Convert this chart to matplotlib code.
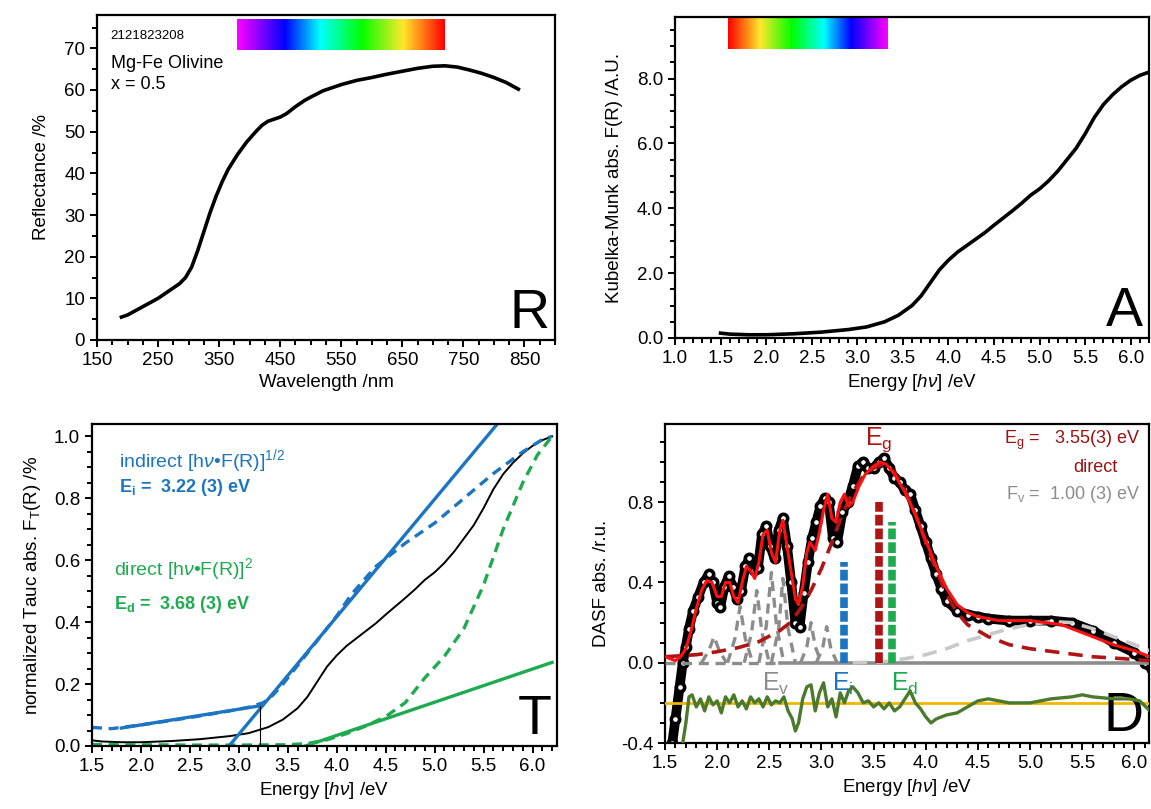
import numpy as np
import matplotlib
matplotlib.use("Agg")
import matplotlib.pyplot as plt
from matplotlib.colors import LinearSegmentedColormap
from matplotlib.ticker import MultipleLocator, FormatStrFormatter

plt.rcParams['font.family'] = ['Liberation Sans', 'DejaVu Sans']
plt.rcParams['mathtext.fontset'] = 'custom'
plt.rcParams['mathtext.rm'] = 'Liberation Sans'
plt.rcParams['mathtext.it'] = 'Liberation Sans:italic'
plt.rcParams['mathtext.bf'] = 'Liberation Sans:bold'

# ---- R: reflectance spectrum ----
wavelength = [190, 200, 225, 250, 270, 285, 295, 305, 315, 325, 335, 345, 355, 365, 380,
              395, 410, 420, 430, 440, 450, 460, 475, 490, 500, 520, 550, 575, 600, 625,
              650, 675, 700, 720, 740, 760, 780, 800, 820, 840]
reflectance = [5.5, 6.0, 8.0, 10.0, 12.0, 13.5, 15.0, 17.5, 21.5, 26.0, 30.5, 34.5, 38.0, 41.0, 44.5,
               47.5, 50.0, 51.5, 52.5, 53.0, 53.5, 54.3, 56.0, 57.5, 58.3, 59.8, 61.3, 62.3, 63.0, 63.8,
               64.5, 65.2, 65.7, 65.8, 65.5, 64.8, 64.0, 63.0, 61.8, 60.2]

# ---- A: Kubelka-Munk ----
km_energy = [1.5, 1.6, 1.8, 2.0, 2.3, 2.6, 2.9, 3.1, 3.3, 3.45, 3.6, 3.7, 3.8, 3.9, 4.0,
             4.1, 4.2, 4.3, 4.4, 4.5, 4.6, 4.7, 4.8, 4.9, 5.0, 5.1, 5.2, 5.3, 5.4, 5.5,
             5.6, 5.7, 5.8, 5.9, 6.0, 6.1, 6.2]
km_abs = [0.15, 0.12, 0.1, 0.1, 0.13, 0.18, 0.26, 0.34, 0.5, 0.7, 1.0, 1.3, 1.7, 2.1, 2.4,
          2.65, 2.85, 3.05, 3.25, 3.48, 3.7, 3.92, 4.15, 4.4, 4.6, 4.85, 5.15, 5.5, 5.85, 6.3,
          6.8, 7.2, 7.5, 7.75, 7.95, 8.1, 8.2]

# ---- T: Tauc plots ----
tauc_ind_e = [1.5, 1.7, 2.0, 2.3, 2.6, 2.9, 3.1, 3.25, 3.35, 3.45, 3.6, 3.8, 4.0, 4.15,
              4.4, 4.7, 5.0, 5.3, 5.6, 5.9, 6.1, 6.2]
tauc_ind = [0.06, 0.056, 0.068, 0.082, 0.097, 0.113, 0.125, 0.14, 0.165, 0.2, 0.26, 0.34, 0.42, 0.49,
            0.58, 0.655, 0.72, 0.8, 0.88, 0.95, 0.99, 1.0]
tauc_dir_e = [1.5, 2.0, 2.5, 3.0, 3.5, 3.7, 3.9, 4.1, 4.3, 4.5, 4.7, 4.9, 5.1, 5.3,
              5.5, 5.7, 5.9, 6.05, 6.2]
tauc_dir = [0.005, 0.004, 0.003, 0.003, 0.004, 0.008, 0.02, 0.04, 0.065, 0.095, 0.14, 0.22, 0.29, 0.38,
            0.52, 0.7, 0.85, 0.94, 1.0]
ind_fit_e = [2.90, 5.64]
ind_fit = [0.0, 1.04]
ind_base_e = [1.8, 3.22]
ind_base = [0.058, 0.13]
dir_fit_e = [3.68, 6.2]
dir_fit = [0.0, 0.27]
e_indirect = 3.22
e_direct = 3.68

# ---- D: DASF ----
dasf_e = [1.57, 1.60, 1.64, 1.67, 1.70, 1.73, 1.77, 1.82, 1.87, 1.92, 1.96, 2.00, 2.03, 2.07,
          2.11, 2.15, 2.19, 2.23, 2.27, 2.31, 2.35, 2.39, 2.43, 2.47, 2.51, 2.55, 2.59, 2.63,
          2.67, 2.71, 2.75, 2.79, 2.83, 2.87, 2.91, 2.95, 2.99, 3.03, 3.07, 3.11, 3.15, 3.2,
          3.25, 3.3, 3.35, 3.4, 3.45, 3.5, 3.55, 3.6, 3.65, 3.7, 3.75, 3.8, 3.85, 3.9, 3.95,
          4.0, 4.05, 4.1, 4.15, 4.2, 4.3, 4.4, 4.5, 4.6, 4.8, 5.0, 5.2, 5.4, 5.6, 5.8, 6.0,
          6.1, 6.17]
dasf = [-0.40, -0.28, -0.12, 0.0, 0.08, 0.17, 0.26, 0.33, 0.40, 0.44, 0.40, 0.30, 0.28, 0.38,
        0.43, 0.38, 0.32, 0.36, 0.48, 0.52, 0.46, 0.47, 0.64, 0.68, 0.58, 0.52, 0.66, 0.72,
        0.58, 0.40, 0.20, 0.18, 0.35, 0.50, 0.62, 0.70, 0.78, 0.82, 0.80, 0.62, 0.60, 0.75,
        0.80, 0.88, 0.98, 1.0, 0.97, 0.97, 1.0, 1.02, 0.97, 0.92, 0.90, 0.86, 0.84, 0.76, 0.68,
        0.60, 0.52, 0.44, 0.37, 0.31, 0.26, 0.24, 0.23, 0.22, 0.21, 0.21, 0.21, 0.20, 0.16, 0.10, 0.05,
        0.0, -0.03]
fit_e = [1.50, 1.55, 1.60, 1.65, 1.70, 1.75, 1.80, 1.85, 1.90, 1.95, 2.00, 2.04, 2.08, 2.12,
         2.16, 2.20, 2.24, 2.28, 2.32, 2.36, 2.40, 2.44, 2.48, 2.52, 2.56, 2.60, 2.63, 2.67,
         2.71, 2.75, 2.78, 2.82, 2.86, 2.89, 2.94, 2.98, 3.02, 3.06, 3.10, 3.14, 3.18, 3.22,
         3.26, 3.30, 3.36, 3.42, 3.50, 3.56, 3.62, 3.70, 3.80, 3.90, 4.00, 4.10, 4.20, 4.30,
         4.40, 4.50, 4.70, 5.00, 5.30, 5.60, 5.80, 6.00, 6.15]
fit = [0.03, 0.02, 0.01, 0.03, 0.07, 0.16, 0.27, 0.36, 0.41, 0.40, 0.33, 0.33, 0.40, 0.40,
       0.33, 0.30, 0.40, 0.48, 0.46, 0.42, 0.50, 0.64, 0.66, 0.55, 0.50, 0.66, 0.71, 0.58,
       0.45, 0.32, 0.29, 0.38, 0.55, 0.60, 0.56, 0.65, 0.76, 0.84, 0.72, 0.70, 0.80, 0.84,
       0.78, 0.80, 0.88, 0.94, 0.98, 1.0, 0.99, 0.94, 0.85, 0.74, 0.61, 0.48, 0.37, 0.29,
       0.25, 0.23, 0.21, 0.21, 0.19, 0.13, 0.09, 0.06, 0.03]
eg_comp_e = [1.5, 1.8, 2.0, 2.2, 2.4, 2.6, 2.7, 2.8, 2.9, 3.0, 3.1, 3.2, 3.3, 3.4, 3.5, 3.6,
             3.7, 3.8, 3.9, 4.0, 4.1, 4.2, 4.3, 4.4, 4.6, 4.8, 5.0, 5.3, 5.6, 5.9, 6.15]
eg_comp = [0.03, 0.04, 0.055, 0.075, 0.105, 0.16, 0.2, 0.27, 0.36, 0.47, 0.6, 0.74, 0.85, 0.93,
           0.97, 0.99, 0.95, 0.86, 0.74, 0.6, 0.46, 0.34, 0.25, 0.19, 0.13, 0.09, 0.07, 0.05,
           0.03, 0.02, 0.01]
broad_e = [3.3, 3.6, 3.8, 4.0, 4.2, 4.4, 4.6, 4.8, 5.0, 5.2, 5.4, 5.6, 5.8, 6.0, 6.15]
broad = [0.0, 0.005, 0.02, 0.04, 0.07, 0.11, 0.14, 0.17, 0.19, 0.205, 0.2, 0.17, 0.13, 0.09, 0.06]
ev_peaks_e = [[1.85, 1.92, 1.97, 2.02, 2.09],
              [2.10, 2.17, 2.22, 2.27, 2.34],
              [2.26, 2.33, 2.38, 2.43, 2.50],
              [2.40, 2.47, 2.52, 2.57, 2.64],
              [2.52, 2.59, 2.63, 2.68, 2.75],
              [2.80, 2.86, 2.90, 2.94, 3.00],
              [2.95, 3.01, 3.05, 3.09, 3.15]]
ev_peaks = [[0, 0.06, 0.13, 0.06, 0],
            [0, 0.12, 0.28, 0.12, 0],
            [0, 0.15, 0.36, 0.15, 0],
            [0, 0.18, 0.45, 0.18, 0],
            [0, 0.17, 0.42, 0.17, 0],
            [0, 0.08, 0.20, 0.08, 0],
            [0, 0.07, 0.18, 0.07, 0]]
resid_e = [1.67, 1.70, 1.73, 1.76, 1.80, 1.84, 1.88, 1.92, 1.96, 2.0, 2.04, 2.08, 2.12, 2.16,
           2.2, 2.24, 2.28, 2.32, 2.36, 2.4, 2.44, 2.48, 2.52, 2.56, 2.6, 2.64, 2.68, 2.72,
           2.75, 2.78, 2.82, 2.86, 2.9, 2.94, 2.98, 3.02, 3.06, 3.1, 3.14, 3.18, 3.22, 3.26,
           3.3, 3.35, 3.4, 3.45, 3.5, 3.55, 3.6, 3.65, 3.7, 3.75, 3.8, 3.85, 3.9, 3.95, 4.0,
           4.05, 4.1, 4.2, 4.3, 4.4, 4.5, 4.6, 4.7, 4.8, 5.0, 5.2, 5.4, 5.5, 5.6, 5.8, 5.95,
           6.05, 6.15]
resid = [-0.40, -0.30, -0.17, -0.16, -0.22, -0.18, -0.24, -0.17, -0.21, -0.19, -0.25, -0.17, -0.2, -0.16,
         -0.22, -0.19, -0.23, -0.17, -0.2, -0.18, -0.22, -0.17, -0.21, -0.19, -0.2, -0.17, -0.24, -0.28,
         -0.34, -0.30, -0.18, -0.12, -0.11, -0.24, -0.15, -0.1, -0.22, -0.18, -0.27, -0.15, -0.2, -0.14,
         -0.12, -0.15, -0.2, -0.19, -0.22, -0.2, -0.23, -0.2, -0.24, -0.22, -0.18, -0.14, -0.2, -0.23, -0.27,
         -0.3, -0.28, -0.26, -0.25, -0.22, -0.19, -0.18, -0.19, -0.2, -0.2, -0.18, -0.17, -0.16, -0.17,
         -0.18, -0.18, -0.19, -0.24]
e_gap = 3.55

BLUE = '#1b75c2'
GREEN = '#1eab50'
DARKRED = '#9b1010'
RED = '#ff1010'

W, H = 1151, 809
fig = plt.figure(figsize=(W / 100, H / 100), dpi=100)


def px_axes(left, right, top, bottom):
    return fig.add_axes([left / W, 1 - bottom / H, (right - left) / W, (bottom - top) / H])


def style(ax):
    for s in ax.spines.values():
        s.set_linewidth(1.6)
    ax.tick_params(which='both', direction='out', top=False, right=False,
                   labelsize=13.5, width=1.4)
    ax.tick_params(which='major', length=5)
    ax.tick_params(which='minor', length=3.5)


rainbow = LinearSegmentedColormap.from_list(
    'vis', [(0.0, '#ff00ff'), (0.23, '#0000ff'), (0.4, '#00ffff'), (0.6, '#00ff00'),
            (0.8, '#ffe82a'), (1.0, '#ff0000')])
grad = np.linspace(0, 1, 256).reshape(1, -1)

# ---- Panel R ----
ax = px_axes(97, 555, 15, 340)
ax.plot(wavelength, reflectance, color='black', lw=2.6)
ax.imshow(grad, cmap=rainbow, extent=[380, 720, 69.5, 76.9], aspect='auto', zorder=0)
ax.set_xlim(150, 900)
ax.set_ylim(0, 78)
ax.set_xticks(np.arange(150, 851, 100))
ax.xaxis.set_minor_locator(MultipleLocator(25))
ax.yaxis.set_major_locator(MultipleLocator(10))
ax.yaxis.set_minor_locator(MultipleLocator(5))
style(ax)
ax.set_xlabel('Wavelength /nm', fontsize=13.5)
ax.set_ylabel('Reflectance /%', fontsize=13.5, labelpad=10)
ax.text(0.03, 0.935, '2121823208', transform=ax.transAxes, fontsize=9.5, va='center')
ax.text(0.03, 0.85, 'Mg-Fe Olivine', transform=ax.transAxes, fontsize=13, va='center')
ax.text(0.03, 0.786, 'x = 0.5', transform=ax.transAxes, fontsize=13, va='center')
ax.text(0.988, 0.0, 'R', transform=ax.transAxes, fontsize=40, ha='right', va='bottom')

# ---- Panel A ----
ax = px_axes(675, 1149, 17, 338)
ax.plot(km_energy, km_abs, color='black', lw=2.6)
ax.imshow(grad[:, ::-1], cmap=rainbow, extent=[1.58, 3.33, 8.9, 9.95], aspect='auto', zorder=0)
ax.set_xlim(1.0, 6.2)
ax.set_ylim(0, 9.9)
ax.xaxis.set_major_locator(MultipleLocator(0.5))
ax.xaxis.set_minor_locator(MultipleLocator(0.1))
ax.yaxis.set_major_locator(MultipleLocator(2.0))
ax.yaxis.set_minor_locator(MultipleLocator(0.5))
ax.xaxis.set_major_formatter(FormatStrFormatter('%.1f'))
ax.yaxis.set_major_formatter(FormatStrFormatter('%.1f'))
style(ax)
ax.set_xlabel(r'Energy [$h\nu$] /eV', fontsize=13.5)
ax.set_ylabel('Kubelka-Munk abs. F(R) /A.U.', fontsize=13.5, labelpad=10)
ax.text(0.988, 0.0, 'A', transform=ax.transAxes, fontsize=40, ha='right', va='bottom')

# ---- Panel T ----
ax = px_axes(92, 557, 424, 746)
km_norm = np.array(km_abs) / max(km_abs)
ax.plot(km_energy, km_norm, color='black', lw=1.4)
ax.plot(tauc_ind_e, tauc_ind, color=BLUE, lw=2.4, ls=(0, (3, 2)))
ax.plot(tauc_dir_e, tauc_dir, color=GREEN, lw=2.4, ls=(0, (3, 2)))
ax.plot(ind_fit_e, ind_fit, color=BLUE, lw=2.4)
ax.plot(ind_base_e, ind_base, color=BLUE, lw=2.4)
ax.plot(dir_fit_e, dir_fit, color=GREEN, lw=2.4)
ax.plot([e_indirect, e_indirect], [0, ind_base[1]], color='black', lw=0.8)
ax.set_xlim(1.5, 6.25)
ax.set_ylim(0, 1.04)
ax.xaxis.set_major_locator(MultipleLocator(0.5))
ax.xaxis.set_minor_locator(MultipleLocator(0.1))
ax.yaxis.set_major_locator(MultipleLocator(0.2))
ax.yaxis.set_minor_locator(MultipleLocator(0.05))
ax.xaxis.set_major_formatter(FormatStrFormatter('%.1f'))
ax.yaxis.set_major_formatter(FormatStrFormatter('%.1f'))
style(ax)
ax.set_xlabel(r'Energy [$h\nu$] /eV', fontsize=13.5)
ax.set_ylabel(r'normalized Tauc abs. F$_\mathregular{T}$(R) /%', fontsize=13.5, labelpad=8)
ax.text(1.78, 0.92, r'indirect [h$\nu$•F(R)]$^\mathregular{1/2}$', color=BLUE, fontsize=14, va='center')
ax.text(1.78, 0.835, r'E$_\mathregular{i}$ =  3.22 (3) eV', color=BLUE, fontsize=13,
        fontweight='bold', va='center')
ax.text(1.72, 0.57, r'direct [h$\nu$•F(R)]$^\mathregular{2}$', color=GREEN, fontsize=14, va='center')
ax.text(1.72, 0.456, r'E$_\mathregular{d}$ =  3.68 (3) eV', color=GREEN, fontsize=13,
        fontweight='bold', va='center')
ax.text(0.988, 0.0, 'T', transform=ax.transAxes, fontsize=40, ha='right', va='bottom')

# ---- Panel D ----
ax = px_axes(665, 1149, 424, 743)
ax.plot(dasf_e, dasf, color='black', lw=7, marker='o', ms=6, mfc='white', mec='black',
        mew=2.6, zorder=2)
ax.plot([1.5, 2.6], [0, 0], color='#8c8c8c', lw=2.4, ls=(0, (3, 2)), zorder=3)
ax.plot([2.6, 6.2], [0, 0], color='#8c8c8c', lw=2.6, zorder=3)
for pe, pv in zip(ev_peaks_e, ev_peaks):
    ax.plot(pe, pv, color='#8c8c8c', lw=2.4, ls=(0, (3, 2)), zorder=3)
ax.plot(broad_e, broad, color='#c8c8c8', lw=2.6, ls=(0, (4, 2.5)), zorder=3)
ax.plot(eg_comp_e, eg_comp, color='#b01515', lw=2.6, ls=(0, (4, 2.5)), zorder=4)
ax.plot(fit_e, fit, color=RED, lw=2.2, zorder=5)
ax.axhline(-0.2, color='#f2b600', lw=2, zorder=3)
ax.plot(resid_e, resid, color='#4b7a2c', lw=2.4, zorder=4)
ax.plot([e_indirect, e_indirect], [0, 0.5], color=BLUE, lw=5.5, ls=(0, (1.4, 0.4)), zorder=6)
ax.plot([e_gap, e_gap], [0, 0.8], color='#b01515', lw=5.5, ls=(0, (1.4, 0.4)), zorder=6)
ax.plot([e_direct, e_direct], [0, 0.7], color=GREEN, lw=5.5, ls=(0, (1.4, 0.4)), zorder=6)
ax.set_xlim(1.5, 6.14)
ax.set_ylim(-0.4, 1.19)
ax.xaxis.set_major_locator(MultipleLocator(0.5))
ax.xaxis.set_minor_locator(MultipleLocator(0.1))
ax.yaxis.set_major_locator(MultipleLocator(0.4))
ax.yaxis.set_minor_locator(MultipleLocator(0.1))
ax.xaxis.set_major_formatter(FormatStrFormatter('%.1f'))
ax.yaxis.set_major_formatter(FormatStrFormatter('%.1f'))
style(ax)
ax.set_xlabel(r'Energy [$h\nu$] /eV', fontsize=13.5)
ax.set_ylabel('DASF abs. /r.u.', fontsize=13.5, labelpad=8)
ax.text(e_gap, 1.04, r'E$_\mathregular{g}$', color='#b01515', fontsize=18, ha='center', va='bottom')
ax.text(2.56, -0.04, r'E$_\mathregular{v}$', color='#8c8c8c', fontsize=18, ha='center', va='top')
ax.text(3.2, -0.04, r'E$_\mathregular{i}$', color=BLUE, fontsize=18, ha='center', va='top')
ax.text(3.8, -0.04, r'E$_\mathregular{d}$', color=GREEN, fontsize=18, ha='center', va='top')
ax.text(6.06, 1.11, r'E$_\mathregular{g}$ =   3.55(3) eV', color=DARKRED, fontsize=13,
        ha='right', va='center')
ax.text(5.63, 0.975, 'direct', color=DARKRED, fontsize=13, ha='center', va='center')
ax.text(6.06, 0.84, r'F$_\mathregular{v}$ =  1.00 (3) eV', color='#8c8c8c', fontsize=13,
        ha='right', va='center')
ax.text(0.988, 0.0, 'D', transform=ax.transAxes, fontsize=40, ha='right', va='bottom')

fig.savefig('out.png', dpi=100)
